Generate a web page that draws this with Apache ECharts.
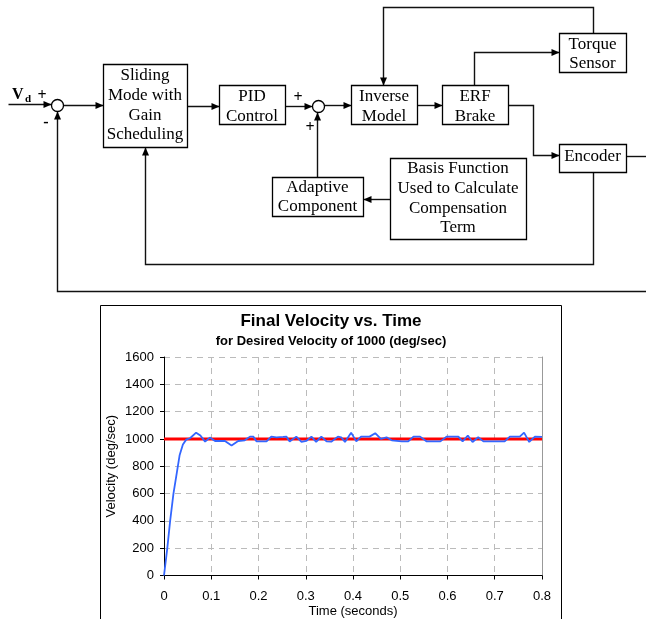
<!DOCTYPE html>
<html><head><meta charset="utf-8">
<script src="https://cdn.jsdelivr.net/npm/echarts@6/dist/echarts.min.js"></script>
<style>html,body{margin:0;padding:0;background:#fff}#c{width:646px;height:619px}</style>
</head><body><div id="c"></div><script>
// ---- chart data ----
const times = [0,0.007,0.013,0.02,0.027,0.033,0.04,0.047,0.055,0.068,0.077,0.087,0.097,0.108,0.129,0.143,0.157,0.171,0.182,0.189,0.196,0.217,0.227,0.238,0.252,0.259,0.266,0.28,0.291,0.301,0.312,0.322,0.333,0.344,0.354,0.368,0.375,0.383,0.396,0.407,0.417,0.435,0.447,0.459,0.471,0.482,0.503,0.517,0.528,0.542,0.556,0.585,0.598,0.623,0.632,0.643,0.653,0.665,0.676,0.721,0.732,0.753,0.762,0.773,0.785,0.8];
const velocity = [0,200,400,600,750,880,960,995,1005,1046,1025,980,1010,985,985,952,985,990,1017,1017,982,982,1017,1012,1015,1017,982,1017,978,985,1017,978,1017,982,980,1017,1012,978,1046,982,1017,1017,1042,1000,1012,990,982,982,1017,1017,982,982,1017,1017,982,1025,978,1012,982,982,1017,1017,1046,978,1017,1015];
const desiredVelocity = 1000;
const timeRange = [0, 0.8];
const chartTitle = 'Final Velocity vs. Time';
const chartSubtitle = 'for Desired Velocity of 1000 (deg/sec)';
const xName = 'Time (seconds)';
const yName = 'Velocity (deg/sec)';

// ---- block diagram (layout) ----
const blocks = [
 {x:103,y:64,w:84,h:83,lines:['Sliding','Mode with','Gain','Scheduling'],ys:[76,96,116,135]},
 {x:219,y:85,w:66,h:39,lines:['PID','Control'],ys:[97,117]},
 {x:351,y:85,w:66,h:39,lines:['Inverse','Model'],ys:[97,117]},
 {x:442,y:85,w:66,h:39,lines:['ERF','Brake'],ys:[97,117]},
 {x:559,y:33,w:67,h:39,lines:['Torque','Sensor'],ys:[45,64]},
 {x:559,y:144,w:67,h:28,lines:['Encoder'],ys:[157]},
 {x:272,y:177,w:91,h:39,lines:['Adaptive','Component'],ys:[188,207]},
 {x:390,y:158,w:136,h:81,lines:['Basis Function','Used to Calculate','Compensation','Term'],ys:[169,189,209,228]}
];
const wires = [
 {pts:[[8,104],[51,104]],arrow:'r'},
 {pts:[[63,105],[103,105]],arrow:'r'},
 {pts:[[187,106],[219,106]],arrow:'r'},
 {pts:[[285,106],[312,106]],arrow:'r'},
 {pts:[[324,105],[351,105]],arrow:'r'},
 {pts:[[417,105],[442,105]],arrow:'r'},
 {pts:[[474,85],[474,52],[559,52]],arrow:'r'},
 {pts:[[593,33],[593,7],[383,7],[383,85]],arrow:'d'},
 {pts:[[508,105],[533,105],[533,155],[559,155]],arrow:'r'},
 {pts:[[626,156],[646,156]]},
 {pts:[[593,172],[593,264],[145,264],[145,147]],arrow:'u'},
 {pts:[[646,291],[57,291],[57,111]],arrow:'u'},
 {pts:[[317,177],[317,112]],arrow:'u'},
 {pts:[[390,199],[363,199]],arrow:'l'}
];
const junctions = [[57,105],[318,106]];
const signs = [{t:'+',x:42,y:96},{t:'-',x:46,y:123},{t:'+',x:298,y:98},{t:'+',x:310,y:128}];

const serif = '"Liberation Serif","Times New Roman",serif';
const sans = '"Liberation Sans",Arial,sans-serif';
const g = [];
const p = v => Math.round(v)+0.5;
wires.forEach(w=>{
  g.push({type:'polyline',silent:true,shape:{points:w.pts.map(q=>[p(q[0]),p(q[1])])},style:{stroke:'#111',lineWidth:1.4,fill:null}});
  if(w.arrow){
    const e=w.pts[w.pts.length-1], x=p(e[0]), y=p(e[1]);
    let pts;
    if(w.arrow==='r') pts=[[x,y],[x-8,y-3.5],[x-8,y+3.5]];
    if(w.arrow==='l') pts=[[x,y],[x+8,y-3.5],[x+8,y+3.5]];
    if(w.arrow==='d') pts=[[x,y],[x-3.5,y-8],[x+3.5,y-8]];
    if(w.arrow==='u') pts=[[x,y],[x-3.5,y+8],[x+3.5,y+8]];
    g.push({type:'polygon',silent:true,shape:{points:pts},style:{fill:'#000'}});
  }
});
blocks.forEach(b=>{
  g.push({type:'rect',silent:true,shape:{x:p(b.x),y:p(b.y),width:b.w,height:b.h},style:{fill:'#fff',stroke:'#000',lineWidth:1.3}});
  b.lines.forEach((t,i)=>g.push({type:'text',silent:true,x:b.x+b.w/2,y:b.ys[i],style:{text:t,font:'17px '+serif,fill:'#000',textAlign:'center',textVerticalAlign:'middle'}}));
});
junctions.forEach(c=>g.push({type:'circle',silent:true,shape:{cx:c[0]+0.5,cy:c[1]+0.5,r:6},style:{fill:'#fff',stroke:'#000',lineWidth:1.3}}));
signs.forEach(s=>g.push({type:'text',silent:true,x:s.x,y:s.y,style:{text:s.t,font:'bold 16px '+serif,fill:'#000',textAlign:'center',textVerticalAlign:'middle'}}));
g.push({type:'text',silent:true,x:12,y:95,style:{text:'V',font:'bold 16px '+serif,fill:'#000',textAlign:'left',textVerticalAlign:'middle'}});
g.push({type:'text',silent:true,x:25,y:99,style:{text:'d',font:'bold 11px '+serif,fill:'#000',textAlign:'left',textVerticalAlign:'middle'}});
// chart frame
g.push({type:'rect',silent:true,shape:{x:100.5,y:305.5,width:461,height:330},style:{fill:null,stroke:'#000',lineWidth:1}});

const chart = echarts.init(document.getElementById('c'));
const axisTxt = {color:'#000',fontSize:13,fontFamily:sans};
chart.setOption({
  animation:false,
  backgroundColor:'#fff',
  title:[
    {text:chartTitle,left:331,top:313,textAlign:'center',padding:0,textStyle:{fontSize:17,fontWeight:'bold',fontFamily:sans,color:'#000'}},
    {text:chartSubtitle,left:331,top:335,textAlign:'center',padding:0,textStyle:{fontSize:13,fontWeight:'bold',fontFamily:sans,color:'#000'}}
  ],
  grid:{left:164,top:357,width:378,height:218.5},
  xAxis:{type:'value',min:timeRange[0],max:timeRange[1],interval:0.1,
    axisLine:{lineStyle:{color:'#000',width:1}},
    axisTick:{show:true,length:4,lineStyle:{color:'#000'}},
    axisLabel:Object.assign({margin:14,formatter:v=>String(Math.round(v*10)/10)},axisTxt),
    splitLine:{show:true,lineStyle:{color:'#bbb',type:[6,5]}},
    name:xName,nameLocation:'middle',nameGap:29,nameMoveOverlap:false,nameTextStyle:axisTxt},
  yAxis:[{type:'value',min:0,max:1600,interval:200,
    axisLine:{show:true,lineStyle:{color:'#000',width:1}},
    axisTick:{show:true,length:4,lineStyle:{color:'#000'}},
    axisLabel:Object.assign({margin:10,formatter:v=>String(v)},axisTxt),
    splitLine:{show:true,lineStyle:{color:'#bbb',type:[6,5]}},
    name:yName,nameLocation:'middle',nameGap:46,nameMoveOverlap:false,nameTextStyle:axisTxt},
   {type:'value',position:'right',min:0,max:1600,interval:200,axisLine:{show:true,lineStyle:{color:'#999'}},axisTick:{show:false},axisLabel:{show:false},splitLine:{show:false}}],
  series:[
    {type:'line',data:[[timeRange[0],desiredVelocity],[timeRange[1],desiredVelocity]],symbol:'none',lineStyle:{color:'#ff0000',width:3},z:2},
    {type:'line',data:times.map((t,i)=>[t,velocity[i]]),symbol:'none',lineStyle:{color:'#3366ff',width:1.8},z:3}
  ],
  graphic:g
});
</script></body></html>
